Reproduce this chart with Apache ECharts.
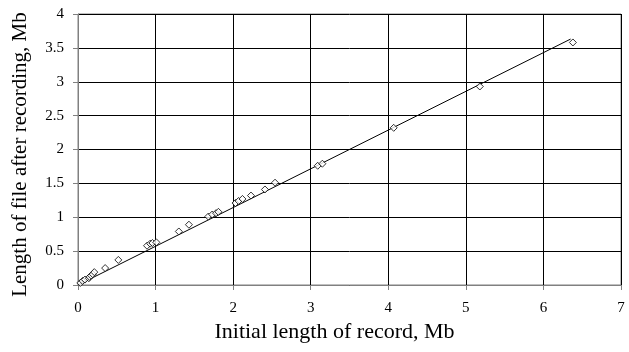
<!DOCTYPE html>
<html>
<head>
<meta charset="utf-8">
<script src="https://cdn.jsdelivr.net/npm/echarts@6/dist/echarts.min.js"></script>
<style>
  html, body { margin: 0; padding: 0; background: #fff; }
  #main { width: 629px; height: 352px; }
</style>
</head>
<body>
<div id="main"></div>
<script>
// measured points (Mb)
const initialLen = [0.03, 0.06, 0.09, 0.14, 0.15, 0.17, 0.19, 0.21, 0.35, 0.52,
  0.89, 0.93, 0.96, 1.01, 1.30, 1.43, 1.68, 1.73, 1.78, 1.81,
  2.03, 2.07, 2.12, 2.23, 2.41, 2.54, 3.09, 3.15, 4.07, 5.18, 6.38];
const fileLen = [0.03, 0.06, 0.08, 0.10, 0.12, 0.14, 0.16, 0.19, 0.25, 0.37,
  0.58, 0.61, 0.62, 0.63, 0.79, 0.89, 1.01, 1.04, 1.06, 1.08,
  1.21, 1.24, 1.27, 1.32, 1.41, 1.51, 1.76, 1.79, 2.32, 2.93, 3.58];
// trend line ends
const trendX = [0, 6.35];
const trendY = [0, 3.63];

const font = "'Liberation Serif', 'DejaVu Serif', serif";

const chart = echarts.init(document.getElementById("main"));
chart.setOption({
  animation: false,
  textStyle: { fontFamily: font },
  grid: {
    left: 78, right: 8, top: 14, bottom: 67,
    outerBoundsMode: "none",
    show: true, borderColor: "#808080", borderWidth: 1
  },
  xAxis: {
    type: "value", min: 0, max: 7, interval: 1,
    name: "Initial length of record, Mb",
    nameLocation: "middle", nameGap: 35,
    nameTextStyle: { fontFamily: font, fontSize: 22, color: "#000", padding: [0, 30, 0, 0] },
    axisLine: { onZero: false, lineStyle: { color: "#808080" } },
    axisTick: { show: true, length: 5, lineStyle: { color: "#808080" } },
    axisLabel: { fontFamily: font, fontSize: 15, color: "#000", margin: 16 },
    splitLine: { show: true, lineStyle: { color: "#000", width: 1 } }
  },
  yAxis: {
    type: "value", min: 0, max: 4, interval: 0.5,
    name: "Length of file after recording, Mb",
    nameLocation: "middle", nameGap: 47,
    nameTextStyle: { fontFamily: font, fontSize: 21, color: "#000", padding: [0, 10, 0, 0] },
    axisLine: { show: true, onZero: false, lineStyle: { color: "#808080" } },
    axisTick: { show: true, length: 5, lineStyle: { color: "#808080" } },
    axisLabel: { fontFamily: font, fontSize: 15, color: "#000", margin: 14 },
    splitLine: { show: true, lineStyle: { color: "#000", width: 1 } }
  },
  series: [
    {
      type: "line",
      data: trendX.map((x, i) => [x, trendY[i]]),
      showSymbol: false,
      lineStyle: { color: "#000", width: 1 },
      z: 2
    },
    {
      type: "scatter",
      data: initialLen.map((x, i) => [x, fileLen[i]]),
      symbol: "diamond",
      symbolSize: [7, 7],
      itemStyle: { color: "#fff", borderColor: "#000", borderWidth: 1 },
      z: 3
    }
  ]
});
</script>
</body>
</html>
